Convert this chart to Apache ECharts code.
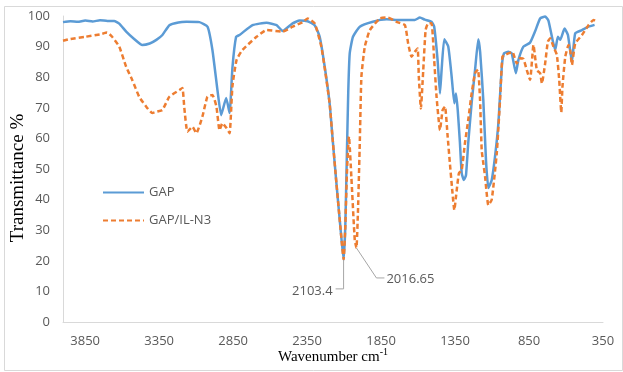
<!DOCTYPE html>
<html>
<head>
<meta charset="utf-8">
<script src="https://cdn.jsdelivr.net/npm/echarts@6/dist/echarts.min.js"></script>
<style>
  html, body { margin: 0; padding: 0; background: #fff; }
  #chart { width: 623px; height: 372px; }
</style>
</head>
<body>
<div id="chart"></div>
<script>
// FTIR spectra: wavenumber (cm-1) vs transmittance (%)
const gapWavenumber = [4000, 3950, 3900, 3850, 3800, 3750, 3700, 3654, 3620, 3573, 3519, 3464, 3414, 3369, 3328, 3281, 3220,
  3166, 3078, 3023, 2990, 2956, 2931, 2897, 2874, 2855, 2830, 2807, 2719, 2624, 2556, 2516, 2448, 2401, 2347, 2299, 2265,
  2231, 2198, 2177, 2152, 2125, 2103.4, 2092, 2082, 2072, 2062, 2040, 1994, 1906, 1813, 1723, 1622, 1588, 1554, 1509, 1491,
  1468, 1452, 1441, 1423, 1396, 1373, 1355, 1344, 1332, 1317, 1305, 1290, 1276, 1261, 1238, 1215, 1193, 1180, 1159, 1141,
  1125, 1102, 1080, 1057, 1034, 1019, 990, 967, 939, 922, 888, 843, 809, 775, 741, 719, 691, 673, 655, 639,
  610, 587, 560, 538, 492, 448, 407];
const gapTransmittance = [98.0, 98.3, 98.1, 98.5, 98.2, 98.6, 98.4, 98.4, 97.5, 94.9, 92.5, 90.5, 91.0, 92.2, 93.8, 97.0, 97.9,
  98.1, 98.0, 96.5, 88.9, 75.8, 67.6, 73.2, 68.3, 83.0, 93.2, 93.8, 97.0, 97.8, 97.0, 95.1, 97.6, 98.5, 98.3, 97.0, 93.2,
  83.4, 71.5, 59.5, 45.4, 31.0, 20.3, 31.0, 53.0, 75.0, 87.8, 93.2, 96.5, 98.1, 98.9, 98.7, 98.7, 99.5, 98.8, 98.1, 96.5,
  85.6, 74.7, 82.3, 92.4, 90.0, 80.2, 71.5, 74.7, 69.3, 58.5, 48.6, 46.4, 48.0, 58.5, 71.5, 82.3, 92.4, 88.0, 72.5, 52.9,
  43.8, 46.4, 54.0, 65.0, 83.4, 87.8, 88.3, 87.8, 81.3, 85.6, 90.0, 91.3, 95.0, 99.2, 99.8, 98.5, 92.2, 88.9, 93.2, 92.2,
  95.9, 93.8, 85.0, 94.3, 95.4, 96.5, 97.1];

const ilWavenumber = [4000, 3950, 3850, 3750, 3702, 3668, 3620, 3573, 3532, 3485, 3438, 3397, 3363, 3328, 3281, 3213, 3193, 3180, 3159, 3125,
  3099, 3058, 3024, 2990, 2963, 2942, 2922, 2895, 2874, 2855, 2827, 2787, 2692, 2624, 2516, 2448, 2380, 2347, 2299, 2254,
  2231, 2198, 2177, 2152, 2125, 2103.4, 2092, 2080, 2067, 2051, 2028, 2016.65, 2006, 1994, 1983, 1960, 1926, 1858, 1805, 1746,
  1689, 1667, 1644, 1622, 1603, 1595, 1581, 1565, 1549, 1532, 1509, 1491, 1475, 1452, 1434, 1418, 1400, 1385, 1369, 1355,
  1339, 1324, 1305, 1283, 1261, 1238, 1215, 1195, 1181, 1170, 1159, 1147, 1125, 1102, 1068, 1046, 1030, 1012, 978, 962,
  933, 910, 888, 865, 843, 820, 797, 775, 763, 741, 723, 707, 685, 662, 646, 632, 624, 605, 583, 572,
  560, 538, 492, 448, 414, 397];
const ilTransmittance = [91.9, 92.5, 93.2, 94.0, 94.6, 93.2, 90.0, 83.4, 79.1, 73.6, 70.4, 68.3, 68.8, 69.3, 73.6, 75.8, 76.5, 70.0, 62.2, 63.8,
  61.7, 67.1, 73.6, 74.2, 70.4, 62.7, 65.0, 63.4, 61.7, 76.9, 85.6, 88.9, 93.2, 95.4, 94.9, 96.5, 98.0, 99.2, 97.6, 90.0,
  83.0, 71.5, 59.5, 45.4, 31.0, 20.5, 31.0, 50.0, 60.6, 47.5, 26.8, 24.2, 36.6, 58.5, 80.2, 90.0, 95.4, 99.2, 99.5, 98.1,
  97.0, 91.0, 86.7, 88.3, 89.4, 80.2, 69.8, 82.3, 95.4, 97.6, 97.6, 85.6, 73.6, 62.7, 69.3, 70.4, 60.6, 51.9, 43.1, 36.6,
  43.0, 48.6, 49.7, 58.5, 66.0, 74.7, 81.3, 82.5, 72.5, 56.2, 51.9, 47.5, 38.2, 40.0, 55.2, 72.5, 86.7, 87.3, 88.0, 88.3,
  84.5, 86.2, 86.0, 82.3, 79.1, 90.5, 82.3, 81.3, 78.0, 84.5, 91.6, 92.7, 90.0, 87.3, 79.1, 68.5, 76.9, 86.7, 90.5, 88.9,
  84.0, 91.0, 93.8, 97.0, 98.7, 98.3];

// Annotated band positions (azide peaks)
const peakWavenumber = [2103.4, 2016.65];
const peakTransmittance = [20.3, 24.2];
const peakLabel = ['2103.4', '2016.65'];

// Axis settings
const xMin = 350, xMax = 4000, xStep = 500;
const yMin = 0, yMax = 100, yStep = 10;

const zip = (xs, ys) => xs.map((x, i) => [x, ys[i]]);

// Leader-line geometry for each callout, in pixels relative to its point
const leaderStyle = [
  { path: [[0, 0], [0, 29], [-8, 29]], text: [-11, 31], align: 'right' },
  { path: [[0, 0], [20, 30], [28, 30]], text: [30, 31], align: 'left' }
];

const grey = '#595959';
const axisGrey = '#d9d9d9';
const labelFont = '"Open Sans", "Liberation Sans", sans-serif';
const titleFont = '"Liberation Serif", "Times New Roman", serif';

const chart = echarts.init(document.getElementById('chart'), null, { renderer: 'canvas' });

chart.setOption({
  animation: false,
  backgroundColor: '#ffffff',
  grid: { left: 63, right: 20, top: 16, bottom: 50 },
  legend: {
    data: ['GAP', 'GAP/IL-N3'],
    orient: 'vertical',
    left: 97,
    top: 181,
    itemWidth: 41,
    itemHeight: 14,
    itemGap: 15,
    itemStyle: { opacity: 0 },
    textStyle: { color: grey, fontSize: 13, fontFamily: labelFont }
  },
  xAxis: {
    type: 'value',
    min: xMin,
    max: xMax,
    interval: xStep,
    inverse: true,
    axisLine: { show: true, lineStyle: { color: axisGrey, width: 1 } },
    axisTick: { show: false },
    splitLine: { show: false },
    axisLabel: {
      color: grey, fontSize: 13, fontFamily: labelFont, margin: 13,
      showMaxLabel: false,
      formatter: v => ((v - xMin) % xStep === 0 ? String(v) : '')
    }
  },
  yAxis: {
    type: 'value',
    min: yMin,
    max: yMax,
    interval: yStep,
    axisLine: { show: true, lineStyle: { color: axisGrey, width: 1 } },
    axisTick: { show: false },
    splitLine: { show: false },
    axisLabel: { color: grey, fontSize: 13, fontFamily: labelFont, margin: 13 }
  },
  series: [
    {
      name: 'GAP',
      type: 'line',
      data: zip(gapWavenumber, gapTransmittance),
      symbol: 'none',
      smooth: 0.15,
      lineStyle: { color: '#5B9BD5', width: 2.5 },
      itemStyle: { color: '#5B9BD5' },
      z: 3
    },
    {
      name: 'GAP/IL-N3',
      type: 'line',
      data: zip(ilWavenumber, ilTransmittance),
      symbol: 'none',
      smooth: 0.15,
      lineStyle: { color: '#ED7D31', width: 2.5, type: [5, 3] },
      itemStyle: { color: '#ED7D31' },
      z: 4
    },
    {
      name: 'callouts',
      type: 'custom',
      silent: true,
      z: 5,
      data: zip(peakWavenumber, peakTransmittance),
      renderItem: (params, api) => {
        const p = api.coord([api.value(0), api.value(1)]);
        const s = leaderStyle[params.dataIndex];
        return {
          type: 'group',
          children: [
            {
              type: 'polyline',
              shape: { points: s.path.map(d => [p[0] + d[0], p[1] + d[1]]) },
              style: { stroke: '#a6a6a6', lineWidth: 1, fill: null }
            },
            {
              type: 'text',
              x: p[0] + s.text[0],
              y: p[1] + s.text[1],
              style: {
                text: peakLabel[params.dataIndex],
                fill: grey,
                font: '13px ' + labelFont,
                align: s.align,
                verticalAlign: 'middle'
              }
            }
          ]
        };
      }
    }
  ],
  graphic: [
    {
      type: 'rect',
      shape: { x: 4.5, y: 6.5, width: 618, height: 364 },
      style: { fill: null, stroke: axisGrey, lineWidth: 1 },
      silent: true
    },
    {
      type: 'text',
      x: 18,
      y: 178,
      rotation: Math.PI / 2,
      style: {
        text: 'Transmittance %',
        fill: '#000',
        font: '19px ' + titleFont,
        align: 'center',
        verticalAlign: 'middle'
      }
    },
    {
      type: 'text',
      x: 333,
      y: 357,
      style: {
        text: '{a|Wavenumber cm}{b|-1}',
        align: 'center',
        verticalAlign: 'middle',
        rich: {
          a: { fontSize: 15, fontFamily: titleFont, fill: '#000', color: '#000' },
          b: { fontSize: 10, fontFamily: titleFont, fill: '#000', color: '#000', padding: [0, 0, 9, 0] }
        }
      }
    }
  ]
});
</script>
</body>
</html>
